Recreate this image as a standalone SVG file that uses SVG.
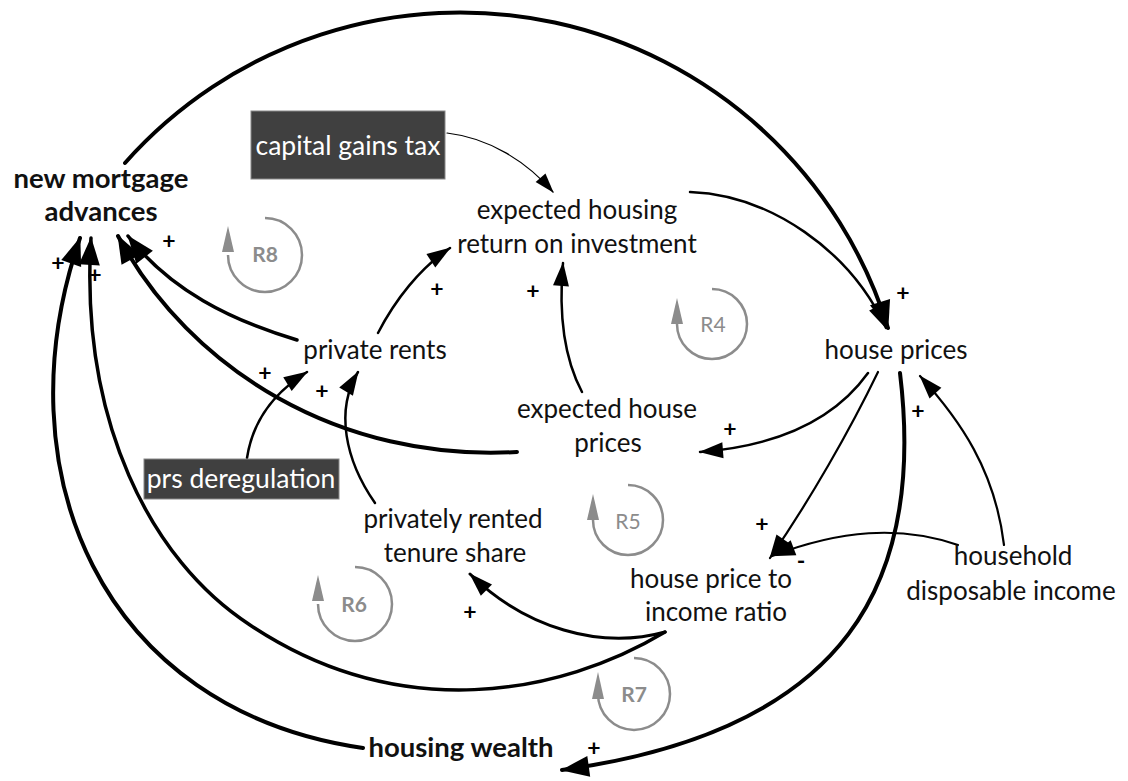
<svg xmlns="http://www.w3.org/2000/svg" width="1128" height="781" viewBox="0 0 1128 781">
<style>
.t{font-family:Lato,"Open Sans","Liberation Sans",sans-serif;font-size:26px;fill:#111;text-anchor:middle}
.tb{font-family:Lato,"Open Sans","Liberation Sans",sans-serif;font-size:27.5px;font-weight:bold;fill:#111;text-anchor:middle}
.tw{font-family:Lato,"Open Sans","Liberation Sans",sans-serif;font-size:26.5px;fill:#fff;text-anchor:middle}
.box{fill:#404040;stroke:#888;stroke-width:1}
.c{fill:none;stroke:#000;stroke-linecap:round}
.pol{font-family:Lato,"Liberation Sans",sans-serif;font-size:23px;font-weight:bold;fill:#000;text-anchor:middle}
.loop{fill:none;stroke:#8c8c8c;stroke-width:2.5}
.lh{fill:#8c8c8c}
.ll{font-family:Lato,"Liberation Sans",sans-serif;font-size:21px;fill:#8c8c8c;text-anchor:middle}
.llb{font-family:Lato,"Liberation Sans",sans-serif;font-size:21px;font-weight:bold;fill:#8c8c8c;text-anchor:middle}
</style>
<defs>
<marker id="ab" markerUnits="userSpaceOnUse" markerWidth="30" markerHeight="22" refX="27" refY="10.5" orient="auto" overflow="visible"><path d="M0,0 L28,10.5 L0,21 z" fill="#000"/></marker>
<marker id="am" markerUnits="userSpaceOnUse" markerWidth="26" markerHeight="18" refX="23" refY="8" orient="auto" overflow="visible"><path d="M0,0 L24,8 L0,16 z" fill="#000"/></marker>
<marker id="as" markerUnits="userSpaceOnUse" markerWidth="22" markerHeight="15" refX="19" refY="6.5" orient="auto" overflow="visible"><path d="M0,0 L20,6.5 L0,13 z" fill="#000"/></marker>
</defs>
<rect width="1128" height="781" fill="#fff"/>
<g id="connectors">
<path class="c" stroke-width="4" d="M125,163 A448,448 0 0 1 888,328" marker-end="url(#ab)"/>
<path class="c" stroke-width="2.5" d="M690,192 C770,195 850,250 886,328" marker-end="url(#am)"/>
<path class="c" stroke-width="1.2" d="M447,133 C490,138 527,162 553,192" marker-end="url(#as)"/>
<path class="c" stroke-width="2.5" d="M378,333 C395,300 420,268 450,248" marker-end="url(#am)"/>
<path class="c" stroke-width="2.5" d="M582,392 C565,360 558,320 563,263" marker-end="url(#am)"/>
<path class="c" stroke-width="3.5" d="M297,340 C230,320 170,290 128,236" marker-end="url(#ab)"/>
<path class="c" stroke-width="4" d="M517,452 C340,462 190,370 118,236" marker-end="url(#ab)"/>
<path class="c" stroke-width="4" d="M363,748 C100,710 0,470 80,238" marker-end="url(#ab)"/>
<path class="c" stroke-width="3.5" d="M665,632 C560,695 400,725 250,625 C150,560 80,420 91,238" marker-end="url(#ab)"/>
<path class="c" stroke-width="2.5" d="M247,458 C252,425 270,395 307,372" marker-end="url(#am)"/>
<path class="c" stroke-width="2.5" d="M375,503 C345,460 335,410 358,372" marker-end="url(#am)"/>
<path class="c" stroke-width="2.5" d="M868,373 C840,412 790,445 700,452" marker-end="url(#am)"/>
<path class="c" stroke-width="2.2" d="M878,372 C850,430 810,500 770,558" marker-end="url(#am)"/>
<path class="c" stroke-width="2.2" d="M958,545 C900,525 840,530 772,556" marker-end="url(#am)"/>
<path class="c" stroke-width="2.2" d="M1004,545 C995,470 960,420 920,376" marker-end="url(#am)"/>
<path class="c" stroke-width="4" d="M900,373 C925,580 850,730 562,770" marker-end="url(#ab)"/>
<path class="c" stroke-width="3" d="M665,632 C600,650 525,628 470,574" marker-end="url(#am)"/>
<text class="pol" x="903" y="301">+</text>
<text class="pol" x="169" y="249">+</text>
<text class="pol" x="58" y="271">+</text>
<text class="pol" x="95" y="283">+</text>
<text class="pol" x="437" y="297">+</text>
<text class="pol" x="533" y="299">+</text>
<text class="pol" x="265" y="381">+</text>
<text class="pol" x="322" y="399">+</text>
<text class="pol" x="730" y="437">+</text>
<text class="pol" x="762" y="532">+</text>
<text class="pol" x="918" y="419">+</text>
<text class="pol" x="470" y="620">+</text>
<text class="pol" x="594" y="756">+</text>
<text class="pol" x="801" y="569" font-size="18" font-weight="normal">-</text>
</g>
<g id="loops">
<g id="loop-R8"><path class="loop" d="M265,218 A37,37 0 1 1 228,255"/><polygon class="lh" points="222,252 234,252 228,226"/><text class="llb" x="265" y="262">R8</text></g>
<g id="loop-R4"><path class="loop" d="M712,289 A35,35 0 1 1 677,324"/><polygon class="lh" points="671,324 683,324 677,298"/><text class="ll" x="713" y="332">R4</text></g>
<g id="loop-R5"><path class="loop" d="M628,485 A35,35 0 1 1 593,520"/><polygon class="lh" points="587,520 599,520 593,494"/><text class="ll" x="628" y="529">R5</text></g>
<g id="loop-R6"><path class="loop" d="M355,567 A37,37 0 1 1 318,604"/><polygon class="lh" points="312,601 324,601 318,575"/><text class="llb" x="354" y="612">R6</text></g>
<g id="loop-R7"><path class="loop" d="M634,658 A36,36 0 1 1 598,694"/><polygon class="lh" points="592,699 604,699 598,672"/><text class="llb" x="634" y="702">R7</text></g>
</g>
<g id="node-new-mortgage-advances"><text class="tb" x="101" y="188">new mortgage</text><text class="tb" x="101" y="221">advances</text></g>
<g id="node-capital-gains-tax"><rect class="box" x="251" y="111" width="194" height="68"/><text class="tw" x="348" y="155">capital gains tax</text></g>
<g id="node-expected-housing-roi"><text class="t" x="577" y="219">expected housing</text><text class="t" x="577" y="253">return on investment</text></g>
<g id="node-house-prices"><text class="t" x="896" y="359">house prices</text></g>
<g id="node-private-rents"><text class="t" x="375" y="359">private rents</text></g>
<g id="node-expected-house-prices"><text class="t" x="607" y="418">expected house</text><text class="t" x="608" y="452">prices</text></g>
<g id="node-prs-deregulation"><rect class="box" x="144" y="459" width="195" height="40"/><text class="tw" x="241" y="488">prs deregulation</text></g>
<g id="node-privately-rented-tenure-share"><text class="t" x="453" y="528">privately rented</text><text class="t" x="455" y="562">tenure share</text></g>
<g id="node-house-price-to-income-ratio"><text class="t" x="711" y="588">house price to</text><text class="t" x="716" y="621">income ratio</text></g>
<g id="node-household-disposable-income"><text class="t" x="1013" y="565">household</text><text class="t" x="1011" y="600">disposable income</text></g>
<g id="node-housing-wealth"><text class="tb" x="461" y="757">housing wealth</text></g>
</svg>
